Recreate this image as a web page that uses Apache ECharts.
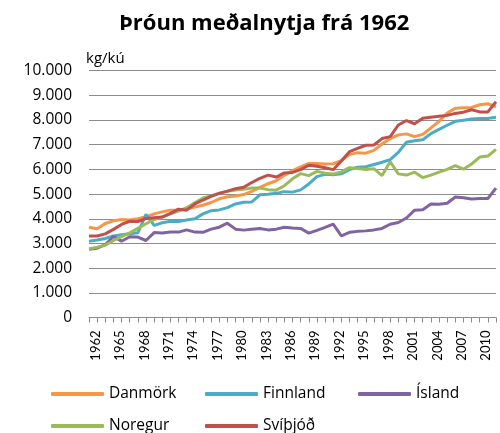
<!DOCTYPE html>
<html>
<head>
<meta charset="utf-8">
<script src="https://cdn.jsdelivr.net/npm/echarts@6/dist/echarts.min.js"></script>
<style>
html,body{margin:0;padding:0;background:#fff;}
#chart{width:500px;height:433px;}
</style>
</head>
<body>
<div id="chart"></div>
<script>
const years = [];
for (let y = 1962; y <= 2012; y++) years.push(String(y));

const yTicks = [0,1000,2000,3000,4000,5000,6000,7000,8000,9000,10000];

const danmork = [3660,3600,3810,3920,3970,3950,4000,4080,4200,4280,4350,4350,4400,4480,4550,4660,4810,4890,4920,4980,5110,5270,5420,5540,5760,5950,6100,6240,6240,6220,6230,6360,6600,6680,6660,6770,7030,7250,7400,7440,7330,7420,7680,7950,8280,8480,8500,8510,8620,8660,8540];
const finnland = [3090,3140,3200,3300,3350,3390,3430,4180,3730,3840,3900,3890,3950,4000,4200,4330,4360,4450,4600,4670,4680,4970,4990,5030,5100,5080,5170,5410,5710,5800,5780,5820,5990,6090,6110,6200,6290,6400,6690,7100,7160,7200,7450,7620,7790,7950,7990,8040,8060,8060,8110];
const island = [2770,2810,2950,3280,3090,3270,3260,3120,3440,3420,3460,3460,3550,3460,3450,3580,3660,3820,3580,3540,3580,3610,3550,3580,3660,3630,3610,3420,3530,3650,3780,3310,3450,3490,3510,3550,3610,3780,3850,4030,4350,4370,4600,4590,4630,4880,4850,4800,4820,4820,5240];
const noregur = [2780,2850,2930,3120,3280,3430,3610,3800,3970,4080,4200,4310,4450,4650,4840,4930,5040,5110,5170,5200,5250,5250,5180,5160,5340,5620,5830,5750,5920,5850,5810,5900,6070,6040,6000,6030,5750,6310,5820,5770,5890,5670,5770,5890,6000,6150,6010,6220,6500,6540,6810];
const svithjod = [3300,3300,3390,3570,3770,3900,3890,4010,4040,4070,4220,4390,4350,4600,4760,4910,5030,5120,5220,5280,5470,5640,5770,5690,5860,5880,5990,6170,6130,6070,5990,6340,6720,6850,6980,6990,7250,7330,7800,7980,7850,8070,8110,8150,8190,8270,8320,8420,8330,8330,8740];

const seriesNames = ['Danmörk','Finnland','Ísland','Noregur','Svíþjóð'];
const seriesData = [danmork, finnland, island, noregur, svithjod];
const colors = ['#F79646','#4BACC6','#8064A2','#9BBB59','#C0504D'];

const FONT = '"Open Sans", sans-serif';
const fmt = v => String(v).replace(/\B(?=(\d{3})+(?!\d))/g, '.');

const legendPos = [
  {left: 51, top: 386}, {left: 205, top: 386}, {left: 358, top: 386},
  {left: 51, top: 418}, {left: 205, top: 418}
];

const chart = echarts.init(document.getElementById('chart'), null, {renderer: 'canvas'});
chart.setOption({
  animation: false,
  color: colors,
  title: [
    {text: 'Þróun meðalnytja frá 1962', left: 114, top: 8,
     textStyle: {fontFamily: FONT, fontSize: 22, fontWeight: 'bold', color: '#000'}},
    {text: 'kg/kú', left: 81, top: 46,
     textStyle: {fontFamily: FONT, fontSize: 15, fontWeight: 'normal', color: '#000'}}
  ],
  legend: seriesNames.map((n, i) => ({
    data: [n], left: legendPos[i].left, top: legendPos[i].top, padding: 0,
    icon: 'roundRect', itemWidth: 53, itemHeight: 4, itemGap: 6,
    textStyle: {fontFamily: FONT, fontSize: 15.5, color: '#000'}
  })),
  grid: {left: 89, right: 4, top: 70.7, bottom: 115.5, containLabel: false},
  xAxis: {
    type: 'category', data: years, boundaryGap: false,
    axisLine: {lineStyle: {color: '#8c8c8c', width: 1}},
    axisTick: {show: true, interval: 0, length: 5, lineStyle: {color: '#8c8c8c'}},
    axisLabel: {interval: 2, rotate: 90, margin: 13, verticalAlign: 'top',
                fontFamily: 'Lato, sans-serif', fontSize: 13, color: '#000'},
    splitLine: {show: false}
  },
  yAxis: {
    type: 'value', min: yTicks[0], max: yTicks[yTicks.length-1], interval: 1000,
    axisLine: {show: false}, axisTick: {show: false},
    axisLabel: {margin: 17, fontFamily: FONT, fontSize: 15.5, color: '#000', formatter: v => fmt(v)},
    splitLine: {lineStyle: {color: '#8c8c8c', width: 1}}
  },
  series: seriesNames.map((n, i) => ({
    name: n, type: 'line', data: seriesData[i], symbol: 'none', showSymbol: false,
    lineStyle: {width: 3, color: colors[i]}, itemStyle: {color: colors[i]}
  }))
});
</script>
</body>
</html>
